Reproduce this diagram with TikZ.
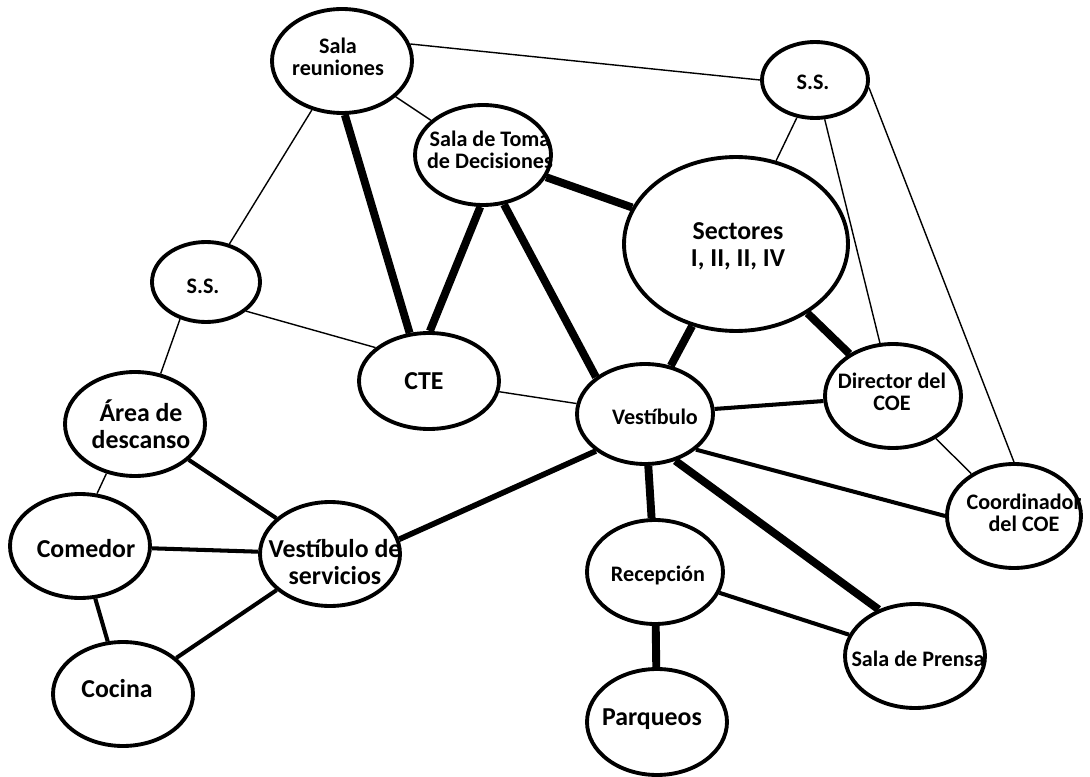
\documentclass[tikz,border=0pt]{standalone}
\usepackage{fontspec}
\setmainfont{Carlito}
\usetikzlibrary{shapes.geometric}
\tikzset{
  room/.style={draw, ellipse, line width=2.2pt, fill=white, inner sep=0pt, minimum width=2.8cm, minimum height=2.08cm},
  smalltxt/.style={font=\bfseries\fontsize{12.6}{12.8}\selectfont, align=center, inner sep=0pt},
  bigtxt/.style={font=\bfseries\fontsize{14.7}{15.6}\selectfont, align=center, inner sep=0pt},
  lightlink/.style={line width=0.8pt},
  midlink/.style={line width=2.3pt},
  heavylink/.style={line width=4.5pt}
}
\begin{document}
\begin{tikzpicture}[x=0.02cm,y=-0.02cm]
\useasboundingbox (0,0) rectangle (1090,777);

\node[room] (reun) at (342,61) {};
\node[room, minimum width=2.72cm, minimum height=2.0cm] (toma) at (483,155) {};
\node[room, minimum width=2.12cm, minimum height=1.52cm] (ssr) at (815,80) {};
\node[room, minimum width=4.48cm, minimum height=3.48cm] (sect) at (736,244) {};
\node[room, minimum width=2.16cm, minimum height=1.6cm] (ssl) at (206,282) {};
\node[room, minimum height=1.92cm] (cte) at (429,381) {};
\node[room] (area) at (135,424) {};
\node[room] (comedor) at (80,546) {};
\node[room] (vserv) at (330,554) {};
\node[room] (cocina) at (123,694) {};
\node[room, minimum width=2.72cm, minimum height=2.0cm] (vest) at (645,414) {};
\node[room, minimum width=2.72cm] (dir) at (893,396) {};
\node[room, minimum width=2.68cm] (coord) at (1014,516) {};
\node[room, minimum width=2.72cm] (recep) at (655,572) {};
\node[room] (prensa) at (915,656) {};
\node[room, minimum height=2.12cm] (parq) at (657,722) {};

\draw[lightlink] (reun.14) -- (ssr.west);
\draw[lightlink] (reun) -- (toma);
\draw[lightlink] (reun) -- (ssl);
\draw[lightlink] (ssr) -- (sect);
\draw[lightlink] (ssr) -- (dir);
\draw[lightlink] (ssr.-8) -- (coord.90);
\draw[lightlink] (ssl.-36) -- (cte.148);
\draw[lightlink] (ssl.-125) -- (area.63);
\draw[lightlink] (area.-120) -- (comedor.72);
\draw[lightlink] (cte) -- (vest);
\draw[lightlink] (dir) -- (coord);

\draw[heavylink] (reun.-87) -- (cte.112);
\draw[heavylink] (toma.-93) -- (cte.89);
\draw[heavylink] (toma.-67) -- (vest.143);
\draw[heavylink] (toma) -- (sect);
\draw[heavylink] (sect) -- (vest);
\draw[heavylink] (sect) -- (dir);
\draw[heavylink] (vest) -- (recep);
\draw[heavylink] (vest.-57) -- (prensa.128);
\draw[heavylink] (recep) -- (parq);

\draw[midlink] (vest) -- (dir);
\draw[midlink] (vest.-35) -- (coord.180);
\draw[midlink, line width=3.2pt] (vest.-143) -- (vserv.12);
\draw[midlink] (recep) -- (prensa);
\draw[midlink] (area) -- (vserv);
\draw[midlink] (comedor) -- (vserv);
\draw[midlink] (comedor) -- (cocina);
\draw[midlink] (cocina) -- (vserv);

\node[smalltxt] (reun-t) at (338,57) {Sala\\reuniones};
\node[smalltxt] (toma-t) at (490,150) {Sala de Toma\\de Decisiones};
\node[smalltxt] (ssr-t) at (813,82) {S.S.};
\node[bigtxt] (sect-t) at (738,246) {Sectores\\I, II, II, IV};
\node[smalltxt] (ssl-t) at (203,286) {S.S.};
\node[bigtxt] (cte-t) at (424,381) {CTE};
\node[bigtxt] (area-t) at (141,424) {Área de\\descanso};
\node[bigtxt] (comedor-t) at (86,549) {Comedor};
\node[bigtxt] (vserv-t) at (335,562) {Vestíbulo de\\servicios};
\node[bigtxt] (cocina-t) at (117,689) {Cocina};
\node[smalltxt] (vest-t) at (655,417) {Vestíbulo};
\node[smalltxt] (dir-t) at (892,392) {Director del\\COE};
\node[smalltxt] (coord-t) at (1024,513) {Coordinador\\del COE};
\node[smalltxt] (recep-t) at (658,575) {Recepción};
\node[smalltxt] (prensa-t) at (918,659) {Sala de Prensa};
\node[bigtxt] (parq-t) at (652,719) {Parqueos};
\end{tikzpicture}
\end{document}
